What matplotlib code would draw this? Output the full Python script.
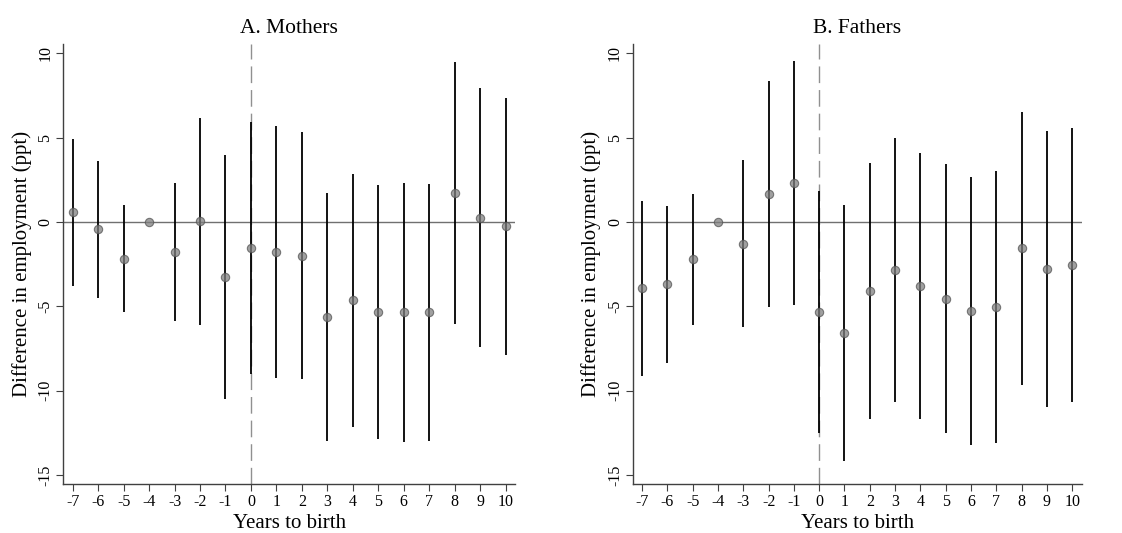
import matplotlib
matplotlib.use('Agg')
import matplotlib.pyplot as plt

plt.rcParams['font.family'] = ['Liberation Serif', 'DejaVu Serif']

# data
years = [-7, -6, -5, -4, -3, -2, -1, 0, 1, 2, 3, 4, 5, 6, 7, 8, 9, 10]

mothers_est = [0.57, -0.43, -2.17, 0.0, -1.78, 0.04, -3.26, -1.52, -1.78, -2.0,
               -5.63, -4.64, -5.35, -5.35, -5.35, 1.72, 0.26, -0.24]
mothers_hi = [4.92, 3.62, 0.99, 0.0, 2.31, 6.16, 3.97, 5.93, 5.69, 5.33,
              1.70, 2.86, 2.19, 2.31, 2.25, 9.48, 7.92, 7.37]
mothers_lo = [-3.79, -4.49, -5.31, 0.0, -5.85, -6.09, -10.51, -8.99, -9.23, -9.31,
              -12.96, -12.13, -12.88, -13.02, -12.96, -6.05, -7.43, -7.86]

fathers_est = [-3.93, -3.69, -2.21, 0.0, -1.28, 1.64, 2.31, -5.35, -6.58, -4.09,
               -2.83, -3.81, -4.54, -5.28, -5.02, -1.56, -2.81, -2.55]
fathers_hi = [1.24, 0.97, 1.66, 0.0, 3.68, 8.34, 9.56, 1.84, 1.03, 3.52,
              4.98, 4.07, 3.44, 2.67, 3.02, 6.54, 5.39, 5.57]
fathers_lo = [-9.11, -8.36, -6.11, 0.0, -6.24, -5.02, -4.92, -12.53, -14.17, -11.7,
              -10.65, -11.7, -12.53, -13.22, -13.08, -9.66, -10.99, -10.65]

titles = ['A. Mothers', 'B. Fathers']
yticks = [-15, -10, -5, 0, 5, 10]

fig = plt.figure(figsize=(11.22, 5.33), dpi=100)
ax1 = fig.add_axes([0.0564, 0.0913, 0.4026, 0.8261])
ax2 = fig.add_axes([0.5639, 0.0913, 0.4001, 0.8261])

panels = [(ax1, mothers_est, mothers_lo, mothers_hi),
          (ax2, fathers_est, fathers_lo, fathers_hi)]

for k, (ax, est, lo, hi) in enumerate(panels):
    ax.axhline(0, color='#707070', lw=1.0, zorder=1)
    ax.axvline(0, color='#909090', lw=1.0, ls=(0, (12, 5)), zorder=1)
    ax.vlines(years, lo, hi, color='black', lw=1.3, zorder=2)
    ax.plot(years, est, 'o', ms=6, mfc='#808080', mec='#555555', mew=0.8,
            alpha=0.75, zorder=3)
    ax.set_xlim(-7.37, 10.37)
    ax.set_ylim(-15.55, 10.55)
    ax.set_xticks(years)
    ax.set_xticklabels([str(v) for v in years], fontsize=11.5)
    ax.set_yticks(yticks)
    ax.set_yticklabels([str(v) for v in yticks], fontsize=11.5, rotation=90, va='center')
    ax.spines['top'].set_visible(False)
    ax.spines['right'].set_visible(False)
    for s in ['left', 'bottom']:
        ax.spines[s].set_color('#404040')
        ax.spines[s].set_linewidth(1.0)
    ax.tick_params(direction='out', length=5, width=0.8, color='#404040', pad=2)
    ax.set_xlabel('Years to birth', fontsize=15, labelpad=3)
    ax.set_ylabel('Difference in employment (ppt)', fontsize=15, labelpad=4)
    ax.set_title(titles[k], fontsize=15.5, pad=8)

fig.savefig('out.png', dpi=100)
